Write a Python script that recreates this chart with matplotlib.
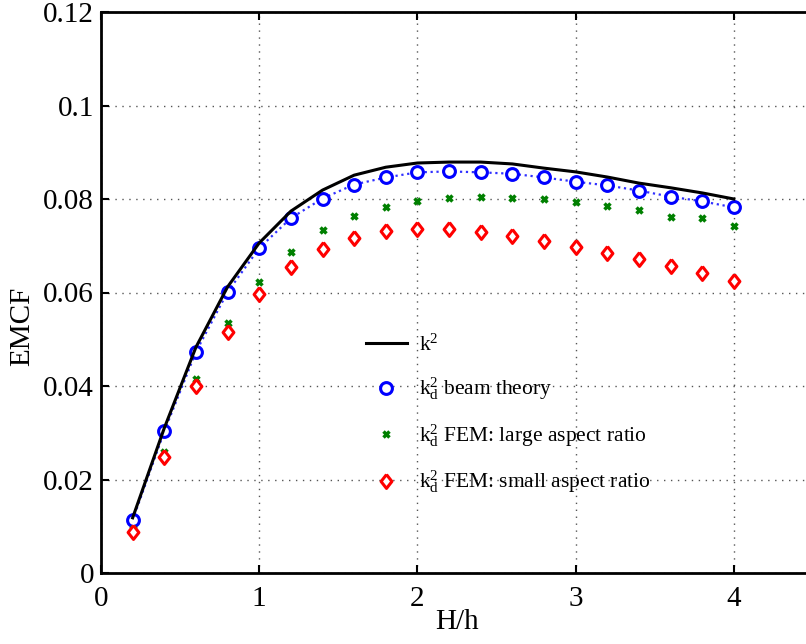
import matplotlib
matplotlib.use('Agg')
import matplotlib.pyplot as plt

H_h = [0.2, 0.4, 0.6, 0.8, 1.0, 1.2, 1.4, 1.6, 1.8, 2.0,
       2.2, 2.4, 2.6, 2.8, 3.0, 3.2, 3.4, 3.6, 3.8, 4.0]

k2 = [0.0118, 0.0310, 0.0483, 0.0612, 0.0706, 0.0774, 0.0819, 0.0851, 0.0868, 0.0877,
      0.0879, 0.0879, 0.0875, 0.0866, 0.0858, 0.0847, 0.0834, 0.0824, 0.0813, 0.0800]

kd2_beam = [0.0113, 0.0303, 0.0473, 0.0601, 0.0695, 0.0759, 0.0801, 0.0831, 0.0846, 0.0857,
            0.0859, 0.0857, 0.0854, 0.0846, 0.0837, 0.0829, 0.0818, 0.0805, 0.0795, 0.0782]

kd2_large = [0.0095, 0.0259, 0.0415, 0.0535, 0.0622, 0.0687, 0.0734, 0.0764, 0.0783, 0.0796,
             0.0802, 0.0804, 0.0802, 0.0800, 0.0794, 0.0786, 0.0776, 0.0762, 0.0759, 0.0742]

kd2_small = [0.0088, 0.0248, 0.0400, 0.0515, 0.0597, 0.0655, 0.0693, 0.0717, 0.0732, 0.0736,
             0.0736, 0.0729, 0.0721, 0.0710, 0.0697, 0.0684, 0.0672, 0.0657, 0.0642, 0.0625]

labels = [r'$\mathregular{k^2}$',
          r'$\mathregular{k_d^2}$ beam theory',
          r'$\mathregular{k_d^2}$ FEM: large aspect ratio',
          r'$\mathregular{k_d^2}$ FEM: small aspect ratio']

plt.rcParams['font.family'] = 'Liberation Serif'
plt.rcParams['mathtext.fontset'] = 'custom'
plt.rcParams['mathtext.rm'] = 'Liberation Serif'

# MATLAB-style diamond: a bit wider than matplotlib's thin diamond
diamond = [(0, 1), (0.78, 0), (0, -1), (-0.78, 0), (0, 1)]

fig = plt.figure(figsize=(8.06, 6.44), dpi=100)
ax = fig.add_axes([101 / 806, 71 / 644, 712 / 806, 561 / 644])

ax.plot(H_h, kd2_beam, ':', color='#3030ff', lw=1.6, zorder=2)
ax.plot(H_h, k2, '-', color='black', lw=2.2, label=labels[0], zorder=4)
ax.plot(H_h, kd2_beam, 'o', ls='none', mfc='white', mec='blue', mew=2.2, ms=8.5,
        label=labels[1], zorder=3)
ax.plot(H_h, kd2_large, 'x', ls='none', color='green', mew=2.5, ms=5, label=labels[2], zorder=3)
ax.plot(H_h, kd2_small, marker=diamond, ls='none', mfc='white', mec='red', mew=2.2, ms=10,
        label=labels[3], zorder=3)

ax.set_xlim(0, 4.5)
ax.set_ylim(0, 0.12)
ax.set_xticks([0, 1, 2, 3, 4])
ax.set_xticklabels(['0', '1', '2', '3', '4'])
ax.set_yticks([0, 0.02, 0.04, 0.06, 0.08, 0.1, 0.12])
ax.set_yticklabels(['0', '0.02', '0.04', '0.06', '0.08', '0.1', '0.12'])
ax.tick_params(direction='in', top=True, right=False, labelsize=21, width=1.5, length=6)
ax.tick_params(axis='x', pad=9)
ax.tick_params(axis='y', pad=5)
ax.grid(True, ls=(0, (1, 4)), color='#555555', lw=1)
for s in ['left', 'bottom', 'top']:
    ax.spines[s].set_linewidth(2)
ax.spines['right'].set_visible(False)

ax.set_xlabel('H/h', fontsize=21, labelpad=-2)
ax.set_ylabel('EMCF', fontsize=21, labelpad=2)
ax.yaxis.set_label_coords(-0.092, 0.44)

ax.legend(loc='upper left', bbox_to_anchor=(0.36, 0.44), frameon=False, fontsize=15.5,
          handlelength=1.9, handletextpad=0.55, labelspacing=0.92, borderaxespad=0)

fig.savefig('out.png', dpi=100)
